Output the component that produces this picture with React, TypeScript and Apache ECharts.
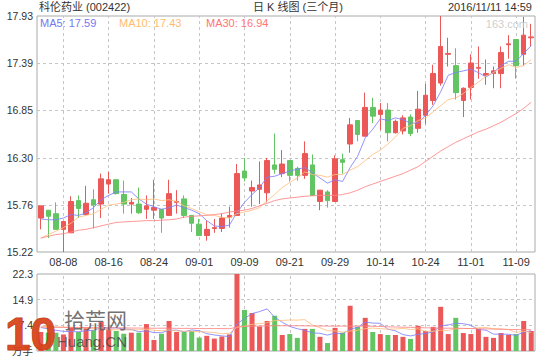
import React, { useEffect, useRef } from 'react';
import * as echarts from 'echarts';

const dates = [
  '08-03','08-04','08-05','08-08','08-09','08-10','08-11','08-12','08-15','08-16',
  '08-17','08-18','08-19','08-22','08-23','08-24','08-25','08-26','08-29','08-30',
  '08-31','09-01','09-02','09-05','09-06','09-07','09-08','09-09','09-12','09-13',
  '09-14','09-19','09-20','09-21','09-22','09-23','09-26','09-27','09-28','09-29',
  '09-30','10-10','10-11','10-12','10-13','10-14','10-17','10-18','10-19','10-20',
  '10-21','10-24','10-25','10-26','10-27','10-28','10-31','11-01','11-02','11-03',
  '11-04','11-07','11-08','11-09','11-10','11-11'
];
const dateTicks = ['08-08','08-16','08-24','09-01','09-09','09-21','09-29','10-14','10-24','11-01','11-09'];

const opens = [
  15.61,15.70,15.66,15.48,15.44,15.81,15.65,15.82,15.77,16.00,
  16.05,15.88,15.77,15.77,15.71,15.70,15.71,15.64,15.79,15.83,
  15.64,15.54,15.41,15.49,15.49,15.62,15.64,16.15,15.92,15.94,
  15.90,16.22,16.12,16.27,16.18,16.10,16.22,15.80,15.91,15.80,
  16.28,16.46,16.73,16.55,16.88,16.80,16.85,16.59,16.61,16.77,
  16.64,16.79,16.96,17.16,17.49,17.36,16.96,17.11,17.33,17.25,
  17.27,17.27,17.60,17.66,17.49,17.68
];
const closes = [
  15.75,15.63,15.48,15.57,15.80,15.72,15.78,15.76,16.06,16.05,
  15.89,15.77,15.79,15.67,15.75,15.73,15.61,15.89,15.80,15.64,
  15.55,15.41,15.48,15.50,15.61,15.64,16.12,16.07,15.96,15.99,
  16.27,16.17,16.23,16.10,16.10,16.35,15.87,15.93,15.81,16.29,
  16.25,16.68,16.57,16.88,16.78,16.85,16.59,16.72,16.76,16.58,
  16.86,17.02,17.27,17.58,17.50,17.05,17.10,17.39,17.34,17.27,
  17.30,17.51,17.61,17.36,17.71,17.69
];
const highs = [
  15.75,15.70,15.79,15.57,15.86,15.87,15.98,15.94,16.12,16.14,
  16.05,16.04,15.84,15.96,15.87,16.05,15.71,16.05,15.93,15.87,
  15.64,15.60,15.58,15.60,15.66,15.74,16.23,16.30,16.04,16.26,
  16.30,16.58,16.39,16.27,16.20,16.49,16.34,15.93,15.93,16.33,
  16.35,16.76,16.73,17.05,16.99,16.93,16.93,16.74,16.79,16.80,
  17.07,17.15,17.37,17.93,17.68,17.56,17.11,17.49,17.58,17.43,
  17.35,17.58,17.71,17.66,17.92,17.84
];
const lows = [
  15.48,15.38,15.48,15.22,15.44,15.61,15.64,15.49,15.61,15.89,
  15.88,15.66,15.66,15.66,15.60,15.60,15.44,15.64,15.66,15.61,
  15.45,15.41,15.35,15.44,15.45,15.50,15.64,16.03,15.74,15.77,
  15.79,16.12,16.08,16.03,16.04,16.06,15.87,15.70,15.73,15.80,
  16.12,16.36,16.49,16.55,16.70,16.62,16.49,16.58,16.57,16.55,
  16.59,16.69,16.91,17.13,17.35,16.97,16.77,16.97,17.21,17.14,
  17.10,17.10,17.44,17.21,17.36,17.58
];
const ma5 = [
  15.60,15.59,15.59,15.61,15.65,15.64,15.67,15.73,15.82,15.87,
  15.91,15.91,15.91,15.83,15.77,15.74,15.71,15.73,15.76,15.73,
  15.70,15.66,15.58,15.52,15.51,15.53,15.67,15.79,15.88,15.96,
  16.08,16.09,16.12,16.15,16.17,16.19,16.13,16.07,16.01,16.05,
  16.03,16.19,16.32,16.53,16.63,16.75,16.73,16.76,16.74,16.70,
  16.70,16.79,16.90,17.06,17.25,17.28,17.30,17.32,17.28,17.23,
  17.28,17.36,17.41,17.41,17.50,17.59
];
const ma10 = [
  15.38,15.42,15.46,15.50,15.55,15.62,15.64,15.66,15.71,15.76,
  15.77,15.79,15.82,15.83,15.82,15.83,15.81,15.82,15.80,15.75,
  15.72,15.68,15.65,15.64,15.62,15.61,15.66,15.68,15.70,15.73,
  15.81,15.88,15.96,16.02,16.07,16.14,16.11,16.10,16.08,16.11,
  16.11,16.16,16.20,16.27,16.34,16.39,16.46,16.54,16.64,16.67,
  16.73,16.76,16.83,16.90,16.97,16.99,17.04,17.11,17.17,17.24,
  17.28,17.33,17.37,17.34,17.36,17.43
];
const ma30 = [
  15.38,15.40,15.42,15.43,15.45,15.47,15.48,15.50,15.52,15.54,
  15.56,15.565,15.57,15.575,15.58,15.58,15.585,15.59,15.60,15.62,
  15.63,15.635,15.64,15.65,15.66,15.68,15.69,15.70,15.72,15.75,
  15.78,15.81,15.83,15.84,15.85,15.86,15.865,15.87,15.87,15.87,
  15.88,15.90,15.93,15.97,16.00,16.03,16.06,16.09,16.12,16.16,
  16.20,16.26,16.32,16.38,16.43,16.48,16.52,16.56,16.60,16.63,
  16.67,16.71,16.76,16.81,16.87,16.94
];
const volumes = [
  5.5,5.3,5.3,4.8,7.0,5.5,6.8,6.0,8.5,6.5,
  5.8,5.0,5.3,5.3,7.8,3.2,5.0,8.7,5.5,5.5,
  5.8,3.9,4.4,3.6,4.2,4.8,22.3,11.9,11.0,7.1,
  8.7,10.2,4.65,4.9,3.8,6.4,6.4,4.1,2.3,6.7,
  5.3,13.1,7.0,9.6,5.5,4.9,4.65,4.65,4.1,3.5,
  7.3,5.8,7.0,12.8,4.9,9.6,5.2,4.9,6.4,4.1,
  3.8,5.2,4.65,4.9,8.7,5.8
];
const volMa5 = [
  6.8,6.4,6.0,5.7,5.58,5.58,5.88,6.02,6.76,6.66,
  6.72,6.36,6.22,5.58,5.84,5.32,5.32,6.0,6.04,5.58,
  6.1,5.88,5.02,4.64,4.38,4.18,7.86,9.36,10.84,11.42,
  12.2,9.78,8.33,7.11,6.45,5.99,5.23,5.12,4.6,5.18,
  4.96,6.3,6.88,8.34,8.1,8.02,6.33,5.86,4.76,4.36,
  4.84,5.07,5.54,7.28,7.56,8.02,7.9,7.48,6.2,6.04,
  4.88,4.88,4.83,4.53,5.45,5.85
];
const volMa10 = [
  7.2,7.1,7.0,6.9,6.8,6.7,6.6,6.5,6.3,6.12,
  6.15,6.12,6.12,6.17,6.25,6.02,5.84,6.11,5.81,5.73,
  5.71,5.6,5.51,5.34,4.98,5.14,6.87,7.19,7.74,7.9,
  8.19,8.82,8.85,8.98,8.94,9.1,7.51,6.73,5.86,5.82,
  5.48,5.77,6.0,6.47,6.64,6.49,6.32,6.37,6.55,6.23,
  6.43,5.7,5.7,6.02,5.96,6.43,6.49,6.51,6.74,6.8,
  6.45,6.39,6.16,5.37,5.75,5.37
];
const volMa30 = [
  6.9,6.9,6.85,6.85,6.8,6.8,6.8,6.75,6.75,6.7,
  6.7,6.7,6.65,6.65,6.6,6.6,6.6,6.6,6.55,6.55,
  6.55,6.5,6.5,6.5,6.5,6.45,6.9,7.1,7.2,7.2,
  7.3,7.3,7.3,7.3,7.3,7.3,7.25,7.25,7.2,7.2,
  7.2,7.2,7.2,7.2,7.15,7.1,7.0,6.95,6.9,6.85,
  6.8,6.7,6.7,6.6,6.6,6.6,6.55,6.5,6.45,6.4,
  6.35,6.3,6.25,6.2,6.2,6.15
];
const priceTicks = [15.22, 15.76, 16.30, 16.85, 17.39, 17.93];
const volTicks = [0, 7.43, 14.87, 22.3];

const RED = '#ec5757';
const GREEN = '#62c462';
const C5 = '#8080ff';
const C10 = '#ffbf80';
const C30 = '#ff8585';
const GRIDC = '#c6c6c6';
const LATIN = '"Liberation Sans", Arial, "Noto Sans CJK SC", sans-serif';

function txt(text: string, x: number, y: number, size: number, fill: string, align = 'left', extra: any = {}) {
  return {
    type: 'text', x, y, z: 100, silent: true,
    style: {
      text, fill, font: `${size}px ${LATIN}`,
      textAlign: align, align, textVerticalAlign: 'middle', verticalAlign: 'middle', ...extra,
    },
  };
}

export default function App() {
  const ref = useRef<HTMLDivElement>(null);
  useEffect(() => {
    const chart = echarts.init(ref.current!, null, { renderer: 'svg' });
    const candleData = dates.map((_, i) => [opens[i], closes[i], lows[i], highs[i]]);
    const volData = volumes.map((v, i) => ({
      value: v,
      itemStyle: { color: closes[i] >= opens[i] ? RED : GREEN },
    }));
    const vLines = dateTicks.map((d) => ({ xAxis: d }));
    const gridLineStyle = { color: GRIDC, type: [3, 3], width: 1 };
    const markCfg = (extra: any[]) => ({
      silent: true, symbol: ['none', 'none'], z: 1, animation: false,
      label: { show: false }, emphasis: { disabled: true },
      lineStyle: gridLineStyle,
      data: [...vLines, ...extra],
    });
    const tickSet = new Set(dateTicks);
    const lineSeries = (name: string, data: number[], color: string, xi: number) => ({
      name, type: 'line', data, xAxisIndex: xi, yAxisIndex: xi,
      symbol: 'none', showSymbol: false, silent: true,
      lineStyle: { color, width: 1, opacity: 0.85 },
      emphasis: { disabled: true },
    });
    chart.setOption({
      animation: false,
      backgroundColor: '#ffffff',
      grid: [
        { left: 37, right: 5, top: 16, height: 236, show: true, borderColor: '#aaaaaa', borderWidth: 1, backgroundColor: '#ffffff' },
        { left: 37, right: 5, top: 274, height: 77, show: true, borderColor: '#aaaaaa', borderWidth: 1, backgroundColor: '#ffffff' },
      ],
      xAxis: [
        {
          type: 'category', gridIndex: 0, data: dates, boundaryGap: true,
          axisLine: { show: false }, axisTick: { show: false }, splitLine: { show: false },
          axisLabel: {
            interval: (_i: number, v: string) => tickSet.has(v),
            fontSize: 11, color: '#333', margin: 4, fontFamily: LATIN,
          },
        },
        {
          type: 'category', gridIndex: 1, data: dates, boundaryGap: true,
          axisLine: { show: false }, axisTick: { show: false }, splitLine: { show: false },
          axisLabel: { show: false },
        },
      ],
      yAxis: [
        {
          type: 'value', gridIndex: 0, min: priceTicks[0], max: priceTicks[priceTicks.length - 1],
          axisLine: { show: false }, splitLine: { show: false },
          axisTick: { show: false, customValues: priceTicks },
          axisLabel: {
            customValues: priceTicks, formatter: (v: number) => v.toFixed(2),
            fontSize: 10.5, color: '#333', margin: 4, fontFamily: LATIN,
          },
        },
        {
          type: 'value', gridIndex: 1, min: 0, max: volTicks[volTicks.length - 1],
          axisLine: { show: false }, splitLine: { show: false },
          axisTick: { show: false, customValues: volTicks },
          axisLabel: {
            customValues: volTicks,
            formatter: (v: number) => (v === 0 ? '万手' : v.toFixed(1)),
            fontSize: 10.5, color: '#333', margin: 4, fontFamily: LATIN,
          },
        },
      ],
      series: [
        {
          name: 'K', type: 'candlestick', xAxisIndex: 0, yAxisIndex: 0, data: candleData,
          barWidth: 5, silent: true,
          itemStyle: { color: RED, color0: GREEN, borderColor: RED, borderColor0: GREEN, borderWidth: 1 },
          markLine: markCfg(priceTicks.slice(1, -1).map((v) => ({ yAxis: v }))),
        },
        lineSeries('MA5', ma5, C5, 0),
        lineSeries('MA10', ma10, C10, 0),
        lineSeries('MA30', ma30, C30, 0),
        {
          name: 'VOL', type: 'bar', xAxisIndex: 1, yAxisIndex: 1, data: volData,
          barWidth: 5, silent: true,
          markLine: markCfg(volTicks.slice(1, -1).map((v) => ({ yAxis: v }))),
        },
        lineSeries('VMA5', volMa5, C5, 1),
        lineSeries('VMA10', volMa10, C10, 1),
        lineSeries('VMA30', volMa30, C30, 1),
      ],
      graphic: [
        txt('科伦药业 (002422)', 39, 7, 11, '#333'),
        txt('日 K 线图 (三个月)', 253, 7, 11, '#333'),
        txt('2016/11/11 14:59', 532, 7, 11, '#333', 'right'),
        txt('MA5: 17.59', 40, 23, 11, '#7777f2'),
        txt('MA10: 17.43', 119, 23, 11, '#ffbb70'),
        txt('MA30: 16.94', 206, 23, 11, '#ff7575'),
        txt('163.com', 528, 24, 11, '#cfcfcf', 'right'),
        txt('10', 5, 334, 46, '#d8431a', 'left', { font: `bold 46px ${LATIN}`, stroke: '#b33510', lineWidth: 1, opacity: 0.95 }),
        txt('拾荒网', 64, 319, 21, '#5a5a5a', 'left', { font: `21px "Noto Sans CJK SC", sans-serif`, opacity: 0.85 }),
        txt('Huang.CN', 57, 341, 15, '#4a4a4a', 'left', { opacity: 0.85 }),
      ],
    });
    return () => chart.dispose();
  }, []);
  return <div ref={ref} style={{ position: 'absolute', left: 0, top: 0, width: 540, height: 360 }} />;
}
